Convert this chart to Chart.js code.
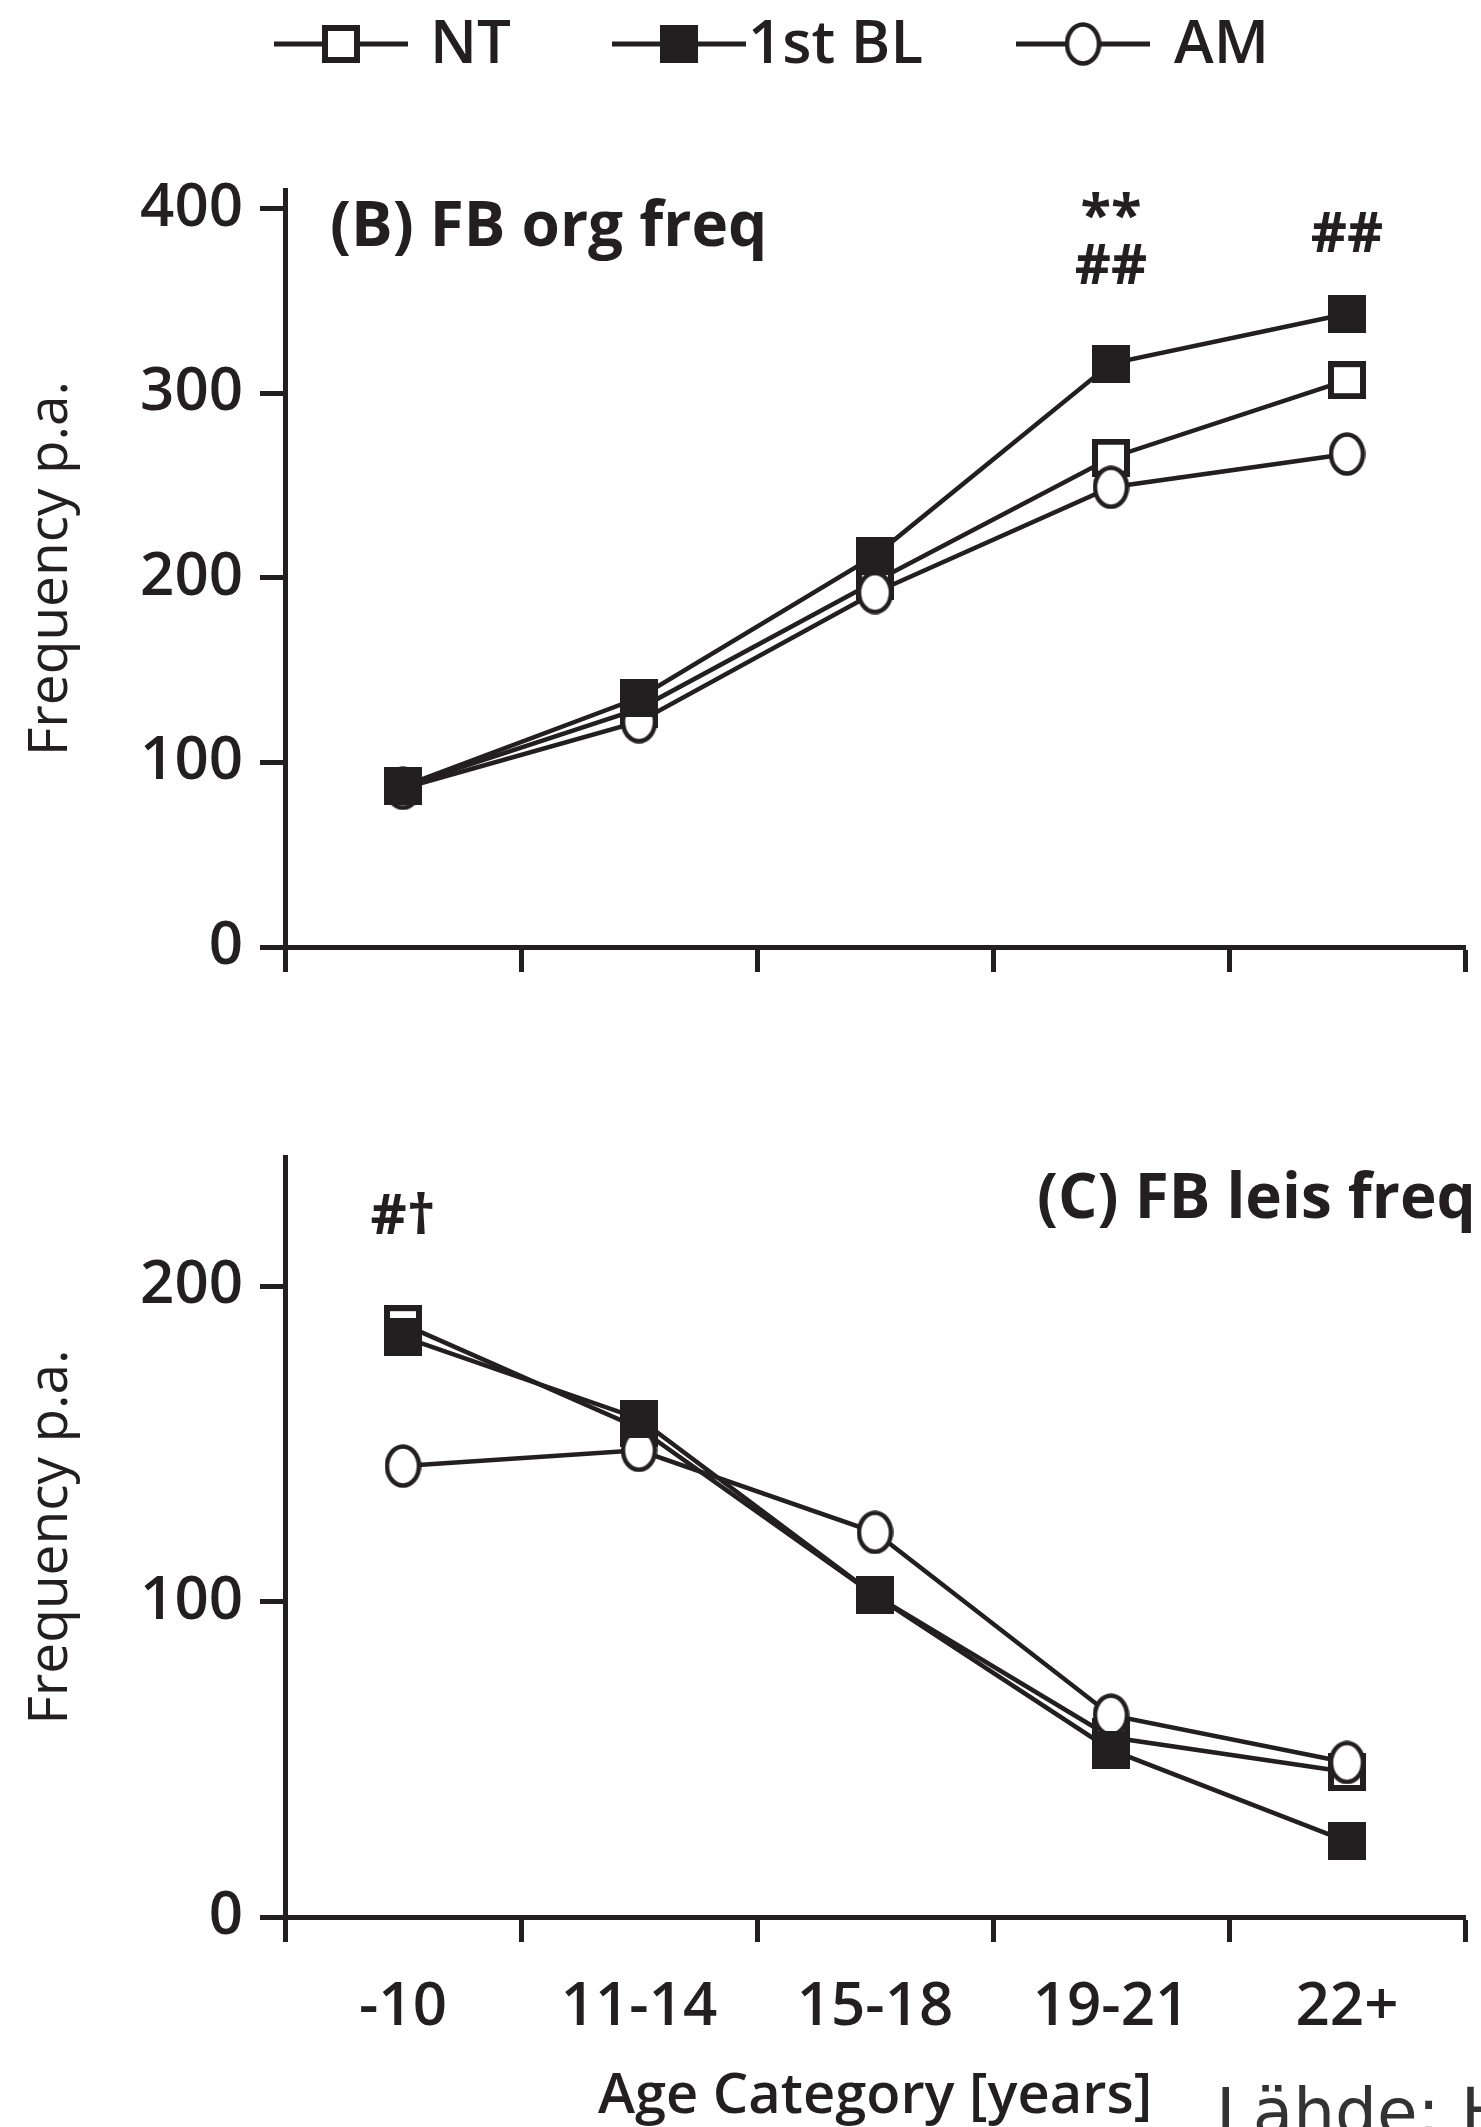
<!DOCTYPE html>
<html>
<head>
<meta charset="utf-8">
<script src="https://cdn.jsdelivr.net/npm/chart.js@4.4.0/dist/chart.umd.min.js"></script>
<style>
html, body { margin: 0; padding: 0; background: #fff; }
body { width: 1481px; height: 2127px; position: relative; overflow: hidden; }
#orgchart { position: absolute; left: 0; top: 0; }
#leischart { position: absolute; left: 0; top: 1000px; }
</style>
</head>
<body>
<canvas id="orgchart" width="1481" height="1000"></canvas>
<canvas id="leischart" width="1481" height="1127"></canvas>
<script>
var ageCategories = ['-10', '11-14', '15-18', '19-21', '22+'];
var seriesNames = ['NT', '1st BL', 'AM'];

// (B) FB org freq
var orgNT = [87, 129, 198, 265, 307];
var orgBL = [87, 135, 212, 316, 343];
var orgAM = [86, 122, 192, 249, 267];
var orgTicks = [0, 100, 200, 300, 400];
var orgMax = 410;

// (C) FB leis freq
var leisNT = [188, 155, 102, 57, 46];
var leisBL = [184, 158, 102, 53, 24];
var leisAM = [143, 148, 122, 64, 49];
var leisTicks = [0, 100, 200];
var leisMax = 241;

// significance marks: category index, value, text
var orgMarks = [[3, 397, '**'], [3, 370, '##'], [4, 387, '##']];
var leisMarks = [[0, 223, '#\u2020']];

var ink = '#231f20';
var family = "'Open Sans', 'DejaVu Sans', sans-serif";

function marker(kind) {
    var c = document.createElement('canvas');
    var w = kind === 'circle' ? 37 : 38;
    var h = kind === 'circle' ? 44 : 38;
    c.width = w;
    c.height = h;
    var g = c.getContext('2d');
    g.fillStyle = ink;
    g.strokeStyle = ink;
    if (kind === 'filled') {
        g.fillRect(0, 0, w, h);
    } else if (kind === 'open') {
        g.fillStyle = '#fff';
        g.fillRect(0, 0, w, h);
        g.lineWidth = 6;
        g.strokeRect(3, 3, w - 6, h - 6);
    } else {
        g.fillStyle = '#fff';
        g.beginPath();
        g.ellipse(w / 2, h / 2, w / 2 - 2.5, h / 2 - 2.5, 0, 0, Math.PI * 2);
        g.fill();
        g.lineWidth = 4.5;
        g.stroke();
    }
    return c;
}

var openSquare = marker('open');
var filledSquare = marker('filled');
var openCircle = marker('circle');
var legendMarks = [openSquare, filledSquare, openCircle];

function lineSet(label, data, style, order) {
    return {
        label: label,
        data: data,
        borderColor: ink,
        backgroundColor: ink,
        borderWidth: 4.5,
        pointStyle: style,
        pointRadius: 20,
        pointHoverRadius: 20,
        fill: false,
        tension: 0,
        order: order
    };
}

// legend, panel title and significance marks
var decorations = {
    id: 'decorations',
    afterDatasetsDraw: function(chart, args, opts) {
        var ctx = chart.ctx;
        var xs = chart.scales.x;
        var ys = chart.scales.y;
        ctx.save();
        ctx.fillStyle = ink;
        ctx.textAlign = 'center';
        ctx.textBaseline = 'alphabetic';
        ctx.font = 'bold 56px ' + family;
        opts.marks.forEach(function(m) {
            ctx.fillText(m[2], xs.getPixelForValue(m[0]), ys.getPixelForValue(m[1]) + 20);
        });

        ctx.textAlign = 'left';
        ctx.font = 'bold 62px ' + family;
        ctx.fillText(opts.panel, opts.panelX, opts.panelY);

        if (opts.legend) {
            var lineX = [274, 612, 1016];
            var textX = [430, 748, 1174];
            ctx.font = '600 60px ' + family;
            seriesNames.forEach(function(name, i) {
                ctx.strokeStyle = ink;
                ctx.lineWidth = 5;
                ctx.beginPath();
                ctx.moveTo(lineX[i], 44);
                ctx.lineTo(lineX[i] + 134, 44);
                ctx.stroke();
                var m = legendMarks[i];
                ctx.drawImage(m, lineX[i] + 67 - m.width / 2, 44 - m.height / 2);
                ctx.fillText(name, textX[i], 63);
            });
        }
        if (opts.source) {
            ctx.fillStyle = '#333';
            ctx.font = '66px "DejaVu Sans", sans-serif';
            ctx.fillText(opts.source, 1216, 1135);
        }
        ctx.restore();
    }
};

function scalesFor(max, tickValues, showLabels, xHeight) {
    return {
        x: {
            type: 'category',
            offset: true,
            grid: { offset: true, drawOnChartArea: false, drawTicks: true, tickLength: 25, tickWidth: 5, tickColor: ink },
            border: { display: true, width: 5, color: ink },
            ticks: {
                display: showLabels,
                color: ink,
                font: { family: family, size: 60, weight: '600' },
                padding: 30,
                maxRotation: 0,
                autoSkip: false
            },
            title: {
                display: showLabels,
                text: 'Age Category [years]',
                color: ink,
                font: { family: family, size: 56, weight: '600' },
                padding: { top: 0, bottom: -4 }
            },
            afterFit: function(s) { s.height = xHeight; }
        },
        y: {
            min: 0,
            max: max,
            afterBuildTicks: function(s) {
                s.ticks = tickValues.map(function(v) { return { value: v }; });
            },
            grid: { drawOnChartArea: false, drawTicks: true, tickLength: 25, tickWidth: 5, tickColor: ink },
            border: { display: true, width: 5, color: ink },
            ticks: {
                color: ink,
                font: { family: family, size: 60, weight: '600' },
                padding: 17
            },
            title: {
                display: true,
                text: 'Frequency p.a.',
                color: ink,
                font: { family: family, size: 55 },
                padding: { top: 18, bottom: 0 }
            },
            afterFit: function(s) { s.width = 285; }
        }
    };
}

var chart1 = document.getElementById('orgchart');
var myChart1 = new Chart(chart1, {
    type: 'line',
    data: {
        labels: ageCategories,
        datasets: [
            lineSet(seriesNames[0], orgNT, openSquare, 2),
            lineSet(seriesNames[1], orgBL, filledSquare, 0),
            lineSet(seriesNames[2], orgAM, openCircle, 1)
        ]
    },
    plugins: [decorations],
    options: {
        responsive: false,
        animation: false,
        layout: { autoPadding: false, padding: { top: 190, right: 16, left: 0, bottom: 0 } },
        scales: scalesFor(orgMax, orgTicks, false, 49),
        plugins: {
            legend: { display: false },
            tooltip: { enabled: false },
            decorations: {
                marks: orgMarks,
                panel: '(B) FB org freq',
                panelX: 330,
                panelY: 246,
                legend: true
            }
        }
    }
});

var chart2 = document.getElementById('leischart');
var myChart2 = new Chart(chart2, {
    type: 'line',
    data: {
        labels: ageCategories,
        datasets: [
            lineSet(seriesNames[0], leisNT, openSquare, 2),
            lineSet(seriesNames[1], leisBL, filledSquare, 0),
            lineSet(seriesNames[2], leisAM, openCircle, 1)
        ]
    },
    plugins: [decorations],
    options: {
        responsive: false,
        animation: false,
        layout: { autoPadding: false, padding: { top: 157, right: 16, left: 0, bottom: 0 } },
        scales: scalesFor(leisMax, leisTicks, true, 210),
        plugins: {
            legend: { display: false },
            tooltip: { enabled: false },
            decorations: {
                marks: leisMarks,
                panel: '(C) FB leis freq',
                panelX: 1037,
                panelY: 218,
                legend: false,
                source: 'L\u00e4hde: H'
            }
        }
    }
});
</script>
</body>
</html>
